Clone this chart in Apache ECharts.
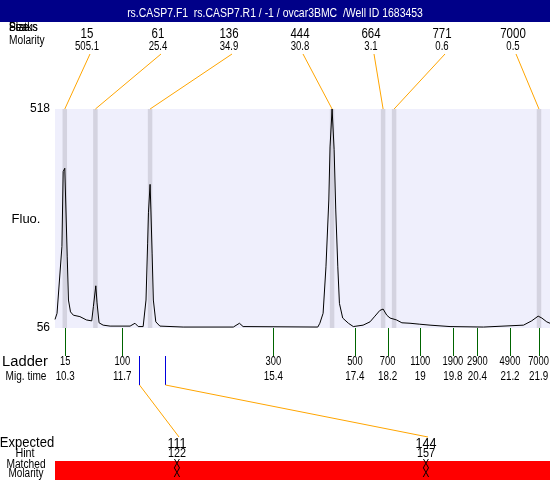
<!DOCTYPE html>
<html>
<head>
<meta charset="utf-8">
<script src="https://cdn.jsdelivr.net/npm/echarts@6/dist/echarts.min.js"></script>
<style>
    html, body { margin: 0; padding: 0; background: #fff; }
    #chart { width: 550px; height: 480px; }
</style>
</head>
<body>
<div id="chart"></div>
<script>
// 迁移时间 / 荧光强度
var traceTime = [10.05, 10.10, 10.22, 10.25, 10.29, 10.35, 10.38, 10.43, 10.50, 10.66, 10.82, 10.95,
    10.99, 11.05, 11.08, 11.13, 11.23, 11.40, 11.89, 12.01, 12.09, 12.21, 12.28, 12.32, 12.34, 12.38,
    12.40, 12.43, 12.46, 12.52, 12.62, 13.19, 14.42, 14.57, 14.66, 16.49, 16.54, 16.62, 16.69, 16.76,
    16.79, 16.84, 16.89, 16.93, 16.98, 17.02, 17.10, 17.24, 17.36, 17.60, 17.77, 17.89, 18.01, 18.09,
    18.18, 18.26, 18.42, 18.55, 18.75, 18.99, 19.24, 19.73, 20.55, 21.53, 21.73, 21.89, 21.98, 22.10, 22.18];
var traceFluo = [74, 87, 228, 386, 393, 206, 115, 90, 83, 80, 73, 71,
    101, 145, 109, 67, 62, 60, 60, 66, 59, 59, 115, 235, 299, 359,
    305, 214, 115, 69, 60, 58, 58, 66, 59, 58, 66, 87, 185, 326,
    438, 518, 432, 305, 185, 108, 77, 66, 59, 62, 69, 81, 93, 96,
    83, 77, 73, 67, 66, 64, 62, 59, 58, 62, 71, 81, 77, 69, 66];

// 峰
var peakTimes = [10.29, 11.04, 12.38, 16.84, 18.09, 18.36, 21.91];
var peakSizes = ['15', '61', '136', '444', '664', '771', '7000'];
var peakMolarity = ['505.1', '25.4', '34.9', '30.8', '3.1', '0.6', '0.5'];

// Ladder
var ladderSizes = ['15', '100', '300', '500', '700', '1100', '1900', '2900', '4900', '7000'];
var ladderTimes = [10.3, 11.7, 15.4, 17.4, 18.2, 19, 19.8, 20.4, 21.2, 21.9];

// 预期片段
var expectedSizes = ['111', '144'];
var hintSizes = ['122', '157'];
var expectedTimes = [12.12, 12.74];
var matchedMarks = ['X', 'X'];
var molarityMarks = ['X', 'X'];

var yTicks = [56, 518];
var title = 'rs.CASP7.F1  rs.CASP7.R1 / -1 / ovcar3BMC  /Well ID 1683453';

var FONT = "'Liberation Sans', Arial, sans-serif";

// 文字(可横向压缩)
function txt(text, x, y, size, align, sx, color) {
    return {
        type: 'text',
        x: x, y: y,
        scaleX: sx || 1,
        style: {
            text: text, x: 0, y: 0,
            align: align || 'center', verticalAlign: 'middle',
            font: size + 'px ' + FONT, fill: color || '#000'
        }
    };
}

var myChart = echarts.init(document.getElementById('chart'));

myChart.setOption({
    animation: false,
    grid: {
        left: 55, right: 0, top: 109, bottom: 152,
        show: true, backgroundColor: '#efeffc', borderWidth: 0
    },
    xAxis: {
        type: 'value',
        min: 10.05, max: 22.18,
        show: false
    },
    yAxis: {
        type: 'value',
        min: yTicks[0], max: yTicks[1], interval: yTicks[1] - yTicks[0],
        axisLine: { show: false },
        axisTick: { show: false },
        splitLine: { show: false },
        axisLabel: { margin: 5, color: '#000', fontSize: 12, fontFamily: FONT }
    },
    graphic: [
        // 左上角标题(重叠)
        { type: 'group', children: [
            txt('Peaks', 9, 28, 12, 'left', 0.85),
            txt('Size', 9, 28, 12, 'left', 0.85),
            txt('Status', 9, 28, 12, 'left', 0.85),
            txt('Molarity', 9, 41, 12, 'left', 0.85)
        ]},
        { type: 'rect', shape: { x: 0, y: 0, width: 550, height: 22 }, style: { fill: '#000088' }, z: 10 },
        Object.assign(txt(title, 275, 14, 12, 'center', 0.87, '#fff'), { z: 11 }),
        txt('Fluo.', 26, 219, 13, 'center'),
        txt('Ladder', 25, 362, 14, 'center', 1.05),
        txt('Mig. time', 26, 377, 12, 'center', 0.84),
        txt('Expected', 27, 443, 14, 'center', 0.93),
        txt('Hint', 25, 454, 12, 'center', 0.9),
        { type: 'rect', shape: { x: 55, y: 461, width: 495, height: 19 }, style: { fill: '#ff0000' } },
        txt('Matched', 26, 465, 12, 'center', 0.85),
        txt('Molarity', 26, 474, 12, 'center', 0.83)
    ],
    series: [
        {
            type: 'line',
            data: traceTime.map(function (t, i) { return [t, traceFluo[i]]; }),
            showSymbol: false,
            lineStyle: { color: '#000', width: 1 },
            z: 3,
            markArea: {
                silent: true,
                itemStyle: { color: '#d4d3e0' },
                data: peakTimes.map(function (t) { return [{ xAxis: t - 0.055 }, { xAxis: t + 0.055 }]; })
            }
        },
        // 峰标注
        {
            type: 'custom',
            data: peakTimes.map(function (t, i) { return [t, i]; }),
            z: 4,
            renderItem: function (params, api) {
                var i = params.dataIndex;
                var top = api.coord([api.value(0), yTicks[1]]);
                var sx = 87 + 71 * i;
                return {
                    type: 'group',
                    children: [
                        { type: 'line', shape: { x1: top[0], y1: top[1], x2: sx + 3, y2: 54 },
                          style: { stroke: '#ffa500', lineWidth: 1 } },
                        txt(peakSizes[i], sx, 34, 14, 'center', 0.82),
                        txt(peakMolarity[i], sx, 47, 12, 'center', 0.8)
                    ]
                };
            }
        },
        // Ladder
        {
            type: 'custom',
            data: ladderTimes.map(function (t, i) { return [t, i]; }),
            z: 4,
            renderItem: function (params, api) {
                var i = params.dataIndex;
                var p = api.coord([api.value(0), yTicks[0]]);
                var x = Math.round(p[0]) + 0.5;
                return {
                    type: 'group',
                    children: [
                        { type: 'line', shape: { x1: x, y1: p[1], x2: x, y2: p[1] + 28 },
                          style: { stroke: '#006400', lineWidth: 1 } },
                        txt(ladderSizes[i], p[0], 362, 12, 'center', 0.78),
                        txt(String(ladderTimes[i]), p[0], 377, 12, 'center', 0.82)
                    ]
                };
            }
        },
        // 预期
        {
            type: 'custom',
            data: expectedTimes.map(function (t, i) { return [t, i]; }),
            z: 4,
            renderItem: function (params, api) {
                var i = params.dataIndex;
                var p = api.coord([api.value(0), yTicks[0]]);
                var x = Math.round(p[0]) + 0.5;
                var sx = i === 0 ? 177 : 426;
                return {
                    type: 'group',
                    children: [
                        { type: 'line', shape: { x1: x, y1: 356, x2: x, y2: 385 },
                          style: { stroke: '#0000dd', lineWidth: 1 } },
                        { type: 'line', shape: { x1: x, y1: 385, x2: sx + 2, y2: 437 },
                          style: { stroke: '#ffa500', lineWidth: 1 } },
                        txt(expectedSizes[i], sx, 444, 14, 'center', 0.9),
                        txt(hintSizes[i], sx, 454, 12, 'center', 0.9),
                        txt(matchedMarks[i], sx, 465, 12, 'center', 0.85),
                        txt(molarityMarks[i], sx, 474, 12, 'center', 0.85)
                    ]
                };
            }
        }
    ]
});
</script>
</body>
</html>
